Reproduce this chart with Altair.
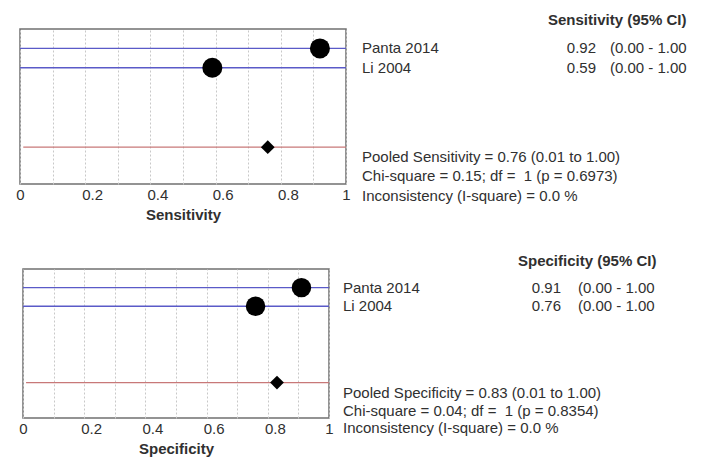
import altair as alt
import pandas as pd

# ---- data ----
studies = ["Panta 2014", "Li 2004"]
study_rows = [1, 2]
pooled_row = 6.1

sens = [0.92, 0.59]
sens_lo = [0.00, 0.00]
sens_hi = [1.00, 1.00]
pooled_sens = [0.76, 0.01, 1.00]
sens_chi, sens_df, sens_p, sens_i2 = 0.15, 1, 0.6973, 0.0

spec = [0.91, 0.76]
spec_lo = [0.00, 0.00]
spec_hi = [1.00, 1.00]
pooled_spec = [0.83, 0.01, 1.00]
spec_chi, spec_df, spec_p, spec_i2 = 0.04, 1, 0.8354, 0.0

FONT = "Liberation Sans"
TXT = "#303030"
NBSP = "\u00a0"


def panel(label, est, lo, hi, pooled, chi, dfree, pval, i2, w, h, g):
    sdf = pd.DataFrame({"study": studies, "est": est, "lo": lo, "hi": hi, "row": study_rows})
    sdf["est_txt"] = [f"{v:.2f}" for v in est]
    sdf["ci_txt"] = [f"({a:.2f} - {b:.2f}" for a, b in zip(lo, hi)]
    pdf = pd.DataFrame({"est": [pooled[0]], "lo": [pooled[1]], "hi": [pooled[2]], "row": [pooled_row]})

    xsc = alt.Scale(domain=[0, 1], nice=False, zero=False)
    ysc = alt.Scale(domain=[0, 8], reverse=True, nice=False, zero=False)
    tick_vals = [i / 10 for i in range(11)]
    xaxis = alt.Axis(
        values=tick_vals, grid=True, gridDash=[2, 2], gridColor="#c8c8c8",
        domain=False, ticks=False, labelOverlap=False, labelFlush=False,
        labelExpr="round(datum.value*10) % 2 == 0 ? format(datum.value, '~g') : ''",
        labelOffset={"condition": {"test": "datum.value > 0.05 && datum.value < 0.95", "value": 7}, "value": 0},
        labelFont=FONT, labelFontSize=15, labelColor=TXT, labelPadding=3,
        title=label, titleFont=FONT, titleFontSize=15, titleFontWeight="bold",
        titleColor=TXT, titlePadding=5,
    )

    def X(f):
        return alt.X(f, scale=xsc, axis=xaxis)

    def Y(f):
        return alt.Y(f, scale=ysc, axis=None)

    s = alt.Chart(sdf)
    p = alt.Chart(pdf)
    ci = s.mark_rule(color="#5a5ac8", strokeWidth=1.3).encode(x=X("lo:Q"), x2="hi:Q", y=Y("row:Q"))
    pci = p.mark_rule(color="#c87878", strokeWidth=1.3).encode(x=X("lo:Q"), x2="hi:Q", y=Y("row:Q"))
    dots = s.mark_point(shape="circle", filled=True, size=g["dot"], color="black", opacity=1).encode(
        x=X("est:Q"), y=Y("row:Q"))
    dia = p.mark_point(shape="diamond", filled=True, size=190, color="black", opacity=1).encode(
        x=X("est:Q"), y=Y("row:Q"))
    tstyle = dict(font=FONT, fontSize=15, color=TXT, baseline="middle")
    names = s.mark_text(align="left", **tstyle).encode(x=alt.value(g["name_x"]), y=Y("row:Q"), text="study:N")
    ests = s.mark_text(align="right", **tstyle).encode(x=alt.value(g["est_x"]), y=Y("row:Q"), text="est_txt:N")
    cis = s.mark_text(align="left", **tstyle).encode(x=alt.value(g["ci_x"]), y=Y("row:Q"), text="ci_txt:N")
    head = alt.Chart(pd.DataFrame({"t": [f"{label} (95% CI)"]})).mark_text(
        align="left", fontWeight="bold", **tstyle).encode(
        x=alt.value(g["head_x"]), y=alt.value(g["head_y"]), text="t:N")
    lines = [
        f"Pooled {label} = {pooled[0]:.2f} ({pooled[1]:.2f} to {pooled[2]:.2f})",
        f"Chi-square = {chi:.2f}; df = {NBSP}{dfree} (p = {pval:.4f})",
        f"Inconsistency (I-square) = {i2:.1f} %",
    ]
    stat_layers = []
    for txt, yy in zip(lines, g["stat_y"]):
        stat_layers.append(
            alt.Chart(pd.DataFrame({"t": [txt]})).mark_text(align="left", **tstyle).encode(
                x=alt.value(g["name_x"]), y=alt.value(yy), text="t:N"))
    layers = [ci, pci, dots, dia, names, ests, cis, head] + stat_layers
    return alt.layer(*layers).properties(width=w, height=h)


top = panel("Sensitivity", sens, sens_lo, sens_hi, pooled_sens, sens_chi, sens_df, sens_p, sens_i2,
            326, 155,
            dict(dot=400, name_x=342, est_x=576, ci_x=590, head_x=528, head_y=-9, stat_y=[128, 147, 167]))
bottom = panel("Specificity", spec, spec_lo, spec_hi, pooled_spec, spec_chi, spec_df, spec_p, spec_i2,
               306, 149,
               dict(dot=380, name_x=320, est_x=538, ci_x=555, head_x=495, head_y=-8, stat_y=[124, 142, 159]))

spacer = alt.Chart(pd.DataFrame({"a": [0]})).mark_point(opacity=0).encode(
    x=alt.value(0), y=alt.value(0)
).properties(width=3, height=149, view=alt.ViewBackground(stroke="transparent"))

bottom_row = alt.hconcat(spacer, bottom, spacing=0, bounds="flush")

chart = alt.vconcat(top, bottom_row, spacing=30).properties(
    padding={"left": 7, "top": 4, "right": 0, "bottom": 0}
).configure_view(stroke="#707070", strokeWidth=1.5)

chart.save("out.html", embed_options={"renderer": "svg", "actions": False})
